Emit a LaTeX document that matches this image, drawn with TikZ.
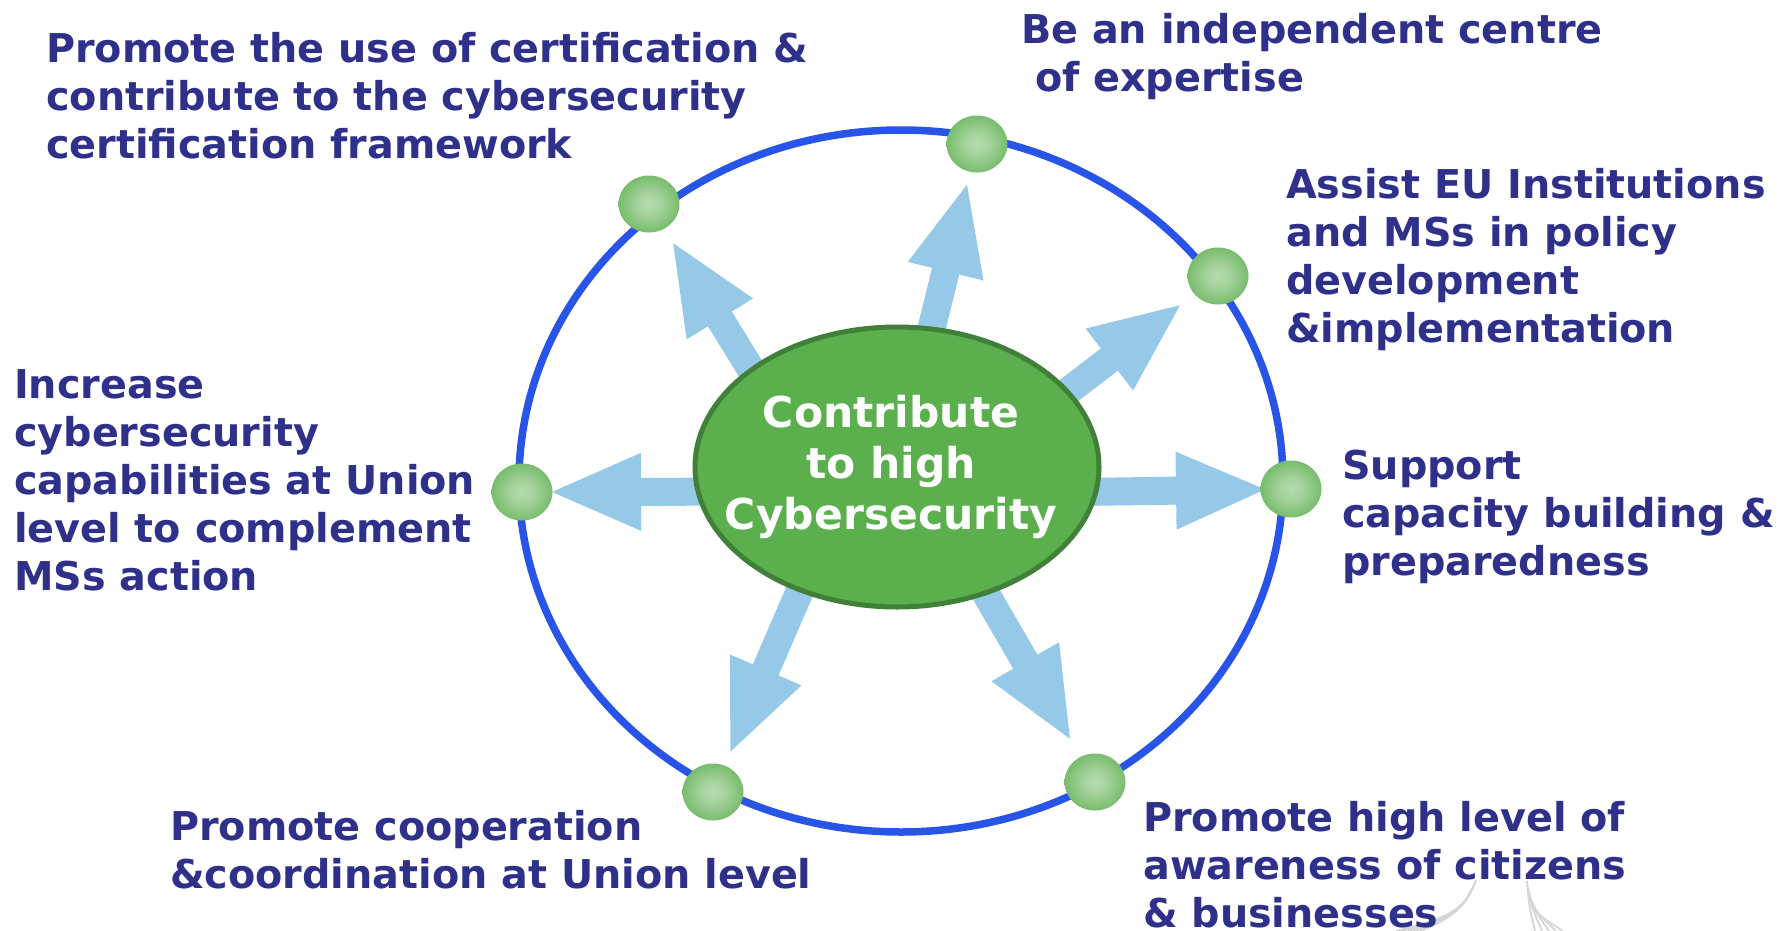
\documentclass[tikz,border=0pt]{standalone}
\usepackage{fontspec}
\setmainfont{DejaVu Sans}
\usetikzlibrary{calc,shapes.geometric,backgrounds}

\definecolor{ringblue}{RGB}{41,84,232}
\definecolor{hubgreen}{RGB}{91,175,77}
\definecolor{hubedge}{RGB}{64,128,56}
\definecolor{arrowblue}{RGB}{150,201,231}
\definecolor{labelnavy}{RGB}{46,48,138}
\definecolor{ballgreen}{RGB}{88,172,76}
\definecolor{ballhi}{RGB}{180,219,172}
\definecolor{logogrey}{RGB}{214,214,214}

% glossy look of the small spheres on the ring
\pgfdeclareradialshading{ballshade}{\pgfpoint{0bp}{0bp}}{color(0bp)=(ballhi); color(9bp)=(ballhi!85!ballgreen); color(36bp)=(ballgreen); color(50bp)=(ballgreen!92!black)}

\begin{document}
\begin{tikzpicture}[x=1pt,y=-1pt,
  hub/.style={ellipse, draw=hubedge, line width=5pt, fill=hubgreen,
    minimum width=404pt, minimum height=280pt, inner sep=0pt},
  hubtext/.style={inner sep=0pt, text=white, align=center,
    font=\bfseries\fontsize{42.5pt}{51pt}\selectfont},
  ball/.style={ellipse, minimum width=61pt, minimum height=57pt, inner sep=0pt, shading=ballshade},
  goal/.style={anchor=north west, inner sep=0pt, text=labelnavy, align=left,
    font=\bfseries\fontsize{39.7pt}{48pt}\selectfont},
  ring/.style={draw=ringblue, line width=7.5pt},
  fatarrow/.style={fill=arrowblue},
  logo/.style={draw=logogrey, line width=1.8pt}
]
\useasboundingbox (0,0) rectangle (1789,930);

% central goal
\node[hub] (hub) at (897,467) {};
\node[hubtext] (hubtext) at (891,467) {Contribute\\to high\\Cybersecurity};

% spheres on the ring
\node[ball] (b1) at (977,144) {};
\node[ball] (b2) at (649,204) {};
\node[ball] (b3) at (1218,276) {};
\node[ball] (b4) at (522,492) {};
\node[ball] (b5) at (1291,489) {};
\node[ball] (b6) at (713,792) {};
\node[ball] (b7) at (1095,782) {};

% faint emblem in the lower right corner
\foreach \i in {0,...,4}
  \draw[logo] (1476-2*\i, 880+4*\i) .. controls (1468-2*\i, 905+2*\i) and (1450-3*\i, 920) .. (1420-6*\i, 931);
\foreach \i in {0,...,4}
  \draw[logo] (1527+\i, 881+6*\i) .. controls (1529+3*\i, 905+3*\i) .. (1535+7*\i, 931);

% objectives
\node[goal] (g1) at (46,32) {Promote the use of certification \&\\contribute to the cybersecurity\\certification framework};
\node[goal] (g2) at (1021,13) {Be an independent centre\\\ of expertise};
\node[goal] (g3) at (1286,168) {Assist EU Institutions\\and MSs in policy\\development\\\&implementation};
\node[goal] (g4) at (14,369.5) {Increase\\cybersecurity\\capabilities at Union\\level to complement\\MSs action};
\node[goal] (g5) at (1342,449.5) {Support\\capacity building \&\\preparedness};
\node[goal] (g6) at (170,810.5) {Promote cooperation\\\&coordination at Union level};
\node[goal] (g7) at (1143,801) {Promote high level of\\awareness of citizens\\\& businesses};

% ring and block arrows behind everything
\begin{scope}[on background layer]
  \fill[white] (0,0) rectangle (1789,930);
  \draw[ring] (901,481) ellipse [x radius=382pt, y radius=351pt];
  \foreach \ang/\tgt/\gap in {76.6/b1/42, 146.4/b2/46, 24.8/b3/48, 187.1/b4/30, 353.7/b5/26, 232.5/b6/44, 305/b7/50} {
    \coordinate (t) at (hub.\ang);
    \coordinate (s) at ($(t)!-20pt!(\tgt)$);
    \coordinate (p) at ($(\tgt)!\gap pt!(t)$);
    \coordinate (h) at ($(p)!89pt!(t)$);
    \fill[fatarrow] ($(s)!14pt!90:(\tgt)$) -- ($(h)!14pt!90:(\tgt)$) -- ($(h)!39pt!90:(\tgt)$)
      -- (p) -- ($(h)!39pt!-90:(\tgt)$) -- ($(h)!14pt!-90:(\tgt)$) -- ($(s)!14pt!-90:(\tgt)$) -- cycle;
  }
\end{scope}
\end{tikzpicture}
\end{document}
